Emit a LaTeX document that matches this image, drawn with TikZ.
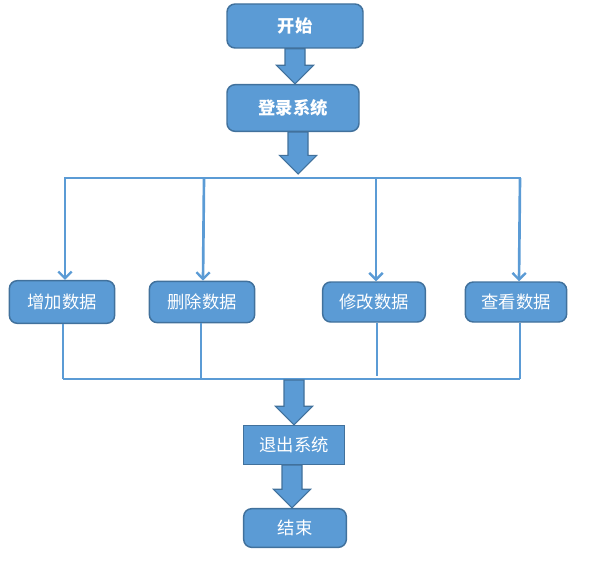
\documentclass[tikz,border=0pt]{standalone}
\usepackage{fontspec}
\newfontfamily\cjk{Noto Sans CJK SC}
\usepackage{tikz}
\usetikzlibrary{arrows.meta, positioning, calc}

\definecolor{boxfill}{HTML}{5B9BD5}
\definecolor{boxline}{HTML}{41719C}
\definecolor{flowline}{HTML}{5B9BD5}

\tikzset{
    stepbox/.style={draw=boxline, fill=boxfill, line width=1.1pt, rounded corners=6pt,
                    text=white, inner sep=0pt, font=\cjk\fontsize{13}{15}\selectfont},
    boldbox/.style={stepbox, font=\cjk\bfseries\fontsize{13}{15}\selectfont},
    flow/.style={draw=flowline, line width=2pt},
    flowarrow/.style={flow, -{Straight Barb[length=5pt, width=10pt, line width=1.8pt]}},
}

% block arrow from a top point down to a tip point
\newcommand{\fatarrow}[2]{%
    \filldraw[fill=boxfill, draw=boxline, line width=0.8pt, line join=miter] let \p1=#1, \p2=#2 in
        (\x1-7.5pt,\y1) -- (\x1+7.5pt,\y1) -- (\x1+7.5pt,\y2+14pt) -- (\x1+14pt,\y2+14pt)
        -- (\x1,\y2) -- (\x1-14pt,\y2+14pt) -- (\x1-7.5pt,\y2+14pt) -- cycle;
}

\begin{document}
\begin{tikzpicture}[x=0.75pt, y=-0.75pt]
    \useasboundingbox (0,0) rectangle (599,563);

    \node[boldbox, minimum width=102pt, minimum height=33pt] (start) at (295,26)  {开始};
    \node[boldbox, minimum width=99pt,  minimum height=35pt] (login) at (293,108) {登录系统};

    \node[stepbox, minimum width=79pt, minimum height=32pt] (add)    at (62,302)  {增加数据};
    \node[stepbox, minimum width=79pt, minimum height=31pt] (delete) at (202,302) {删除数据};
    \node[stepbox, minimum width=77pt, minimum height=30pt] (modify) at (374,302) {修改数据};
    \node[stepbox, minimum width=76pt, minimum height=30pt] (view)   at (516,302) {查看数据};

    \node[stepbox, rounded corners=0pt, minimum width=76pt, minimum height=29pt] (quit) at (294,445) {退出系统};
    \node[stepbox, minimum width=77pt, minimum height=29pt] (stop) at (295,528) {结束};

    % top bar and branches
    \coordinate (topl) at (64,178);
    \coordinate (topr) at (521,178);
    \coordinate (toptip) at (298,174);
    \draw[flow] (topl) -- (topr);
    \draw[flowarrow] ($(add.north |- topl)+(3,0)$) -- ($(add.north)+(3,0)$);
    \draw[flowarrow] ($(delete.north |- topl)+(2,0)$) -- ($(delete.north)+(1,0)$);
    \draw[flowarrow] ($(modify.north |- topl)+(2,0)$) -- ($(modify.north)+(2,0)$);
    \draw[flowarrow] ($(view.north |- topl)+(4,0)$) -- ($(view.north)+(3,0)$);

    % bottom bar
    \coordinate (botl) at (63,379);
    \coordinate (botr) at (520,379);
    \draw[flow] (botl) -- (botr);
    \draw[flow] ($(add.south)+(1,0)$) -- ($(add.south |- botl)+(1,0)$);
    \draw[flow] ($(delete.south)+(-1,0)$) -- ($(delete.south |- botl)+(-1,0)$);
    \draw[flow] ($(modify.south)+(3,0)$) -- ($(modify.south |- botl)+(3,-3)$);
    \draw[flow] ($(view.south)+(4,0)$) -- ($(view.south |- botl)+(4,0)$);

    % block arrows
    \fatarrow{(start.south)}{(login.north)}
    \fatarrow{($(login.south)+(5,0)$)}{(toptip)}
    \fatarrow{($(quit.north |- botl)+(0,1)$)}{(quit.north)}
    \fatarrow{($(quit.south)+(-2,0)$)}{($(stop.north)+(-2,0)$)}
\end{tikzpicture}
\end{document}
